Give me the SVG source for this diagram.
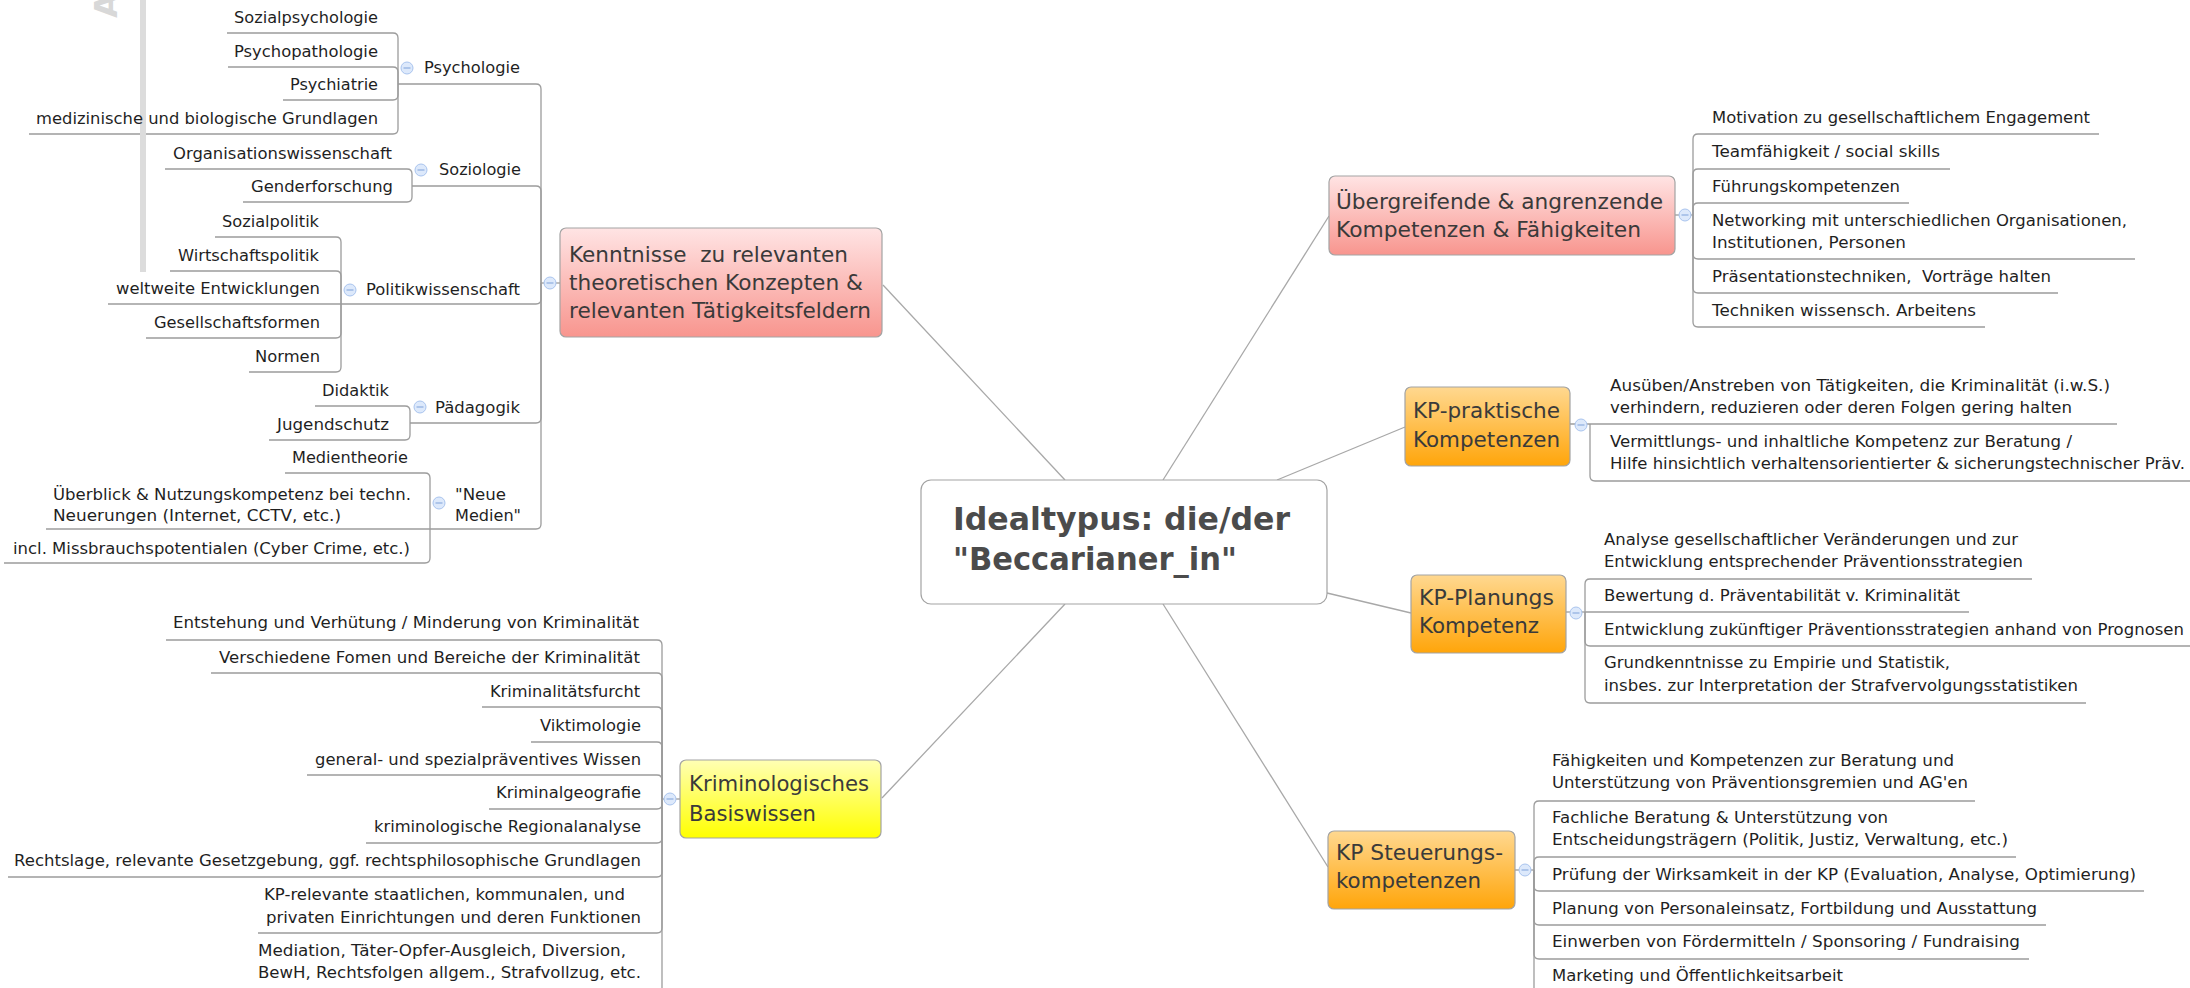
<svg xmlns="http://www.w3.org/2000/svg" width="2190" height="988" viewBox="0 0 2190 988">
<defs>
<linearGradient id="gRed" x1="0" y1="0" x2="0" y2="1"><stop offset="0" stop-color="#ffe4e4"/><stop offset="1" stop-color="#f8958e"/></linearGradient>
<linearGradient id="gOrange" x1="0" y1="0" x2="0" y2="1"><stop offset="0" stop-color="#ffd890"/><stop offset="1" stop-color="#ffa50a"/></linearGradient>
<linearGradient id="gYellow" x1="0" y1="0" x2="0" y2="1"><stop offset="0" stop-color="#ffffb4"/><stop offset="1" stop-color="#ffff00"/></linearGradient>
<style>
.conn path{fill:none;stroke:#9c9c9c;stroke-width:1.3}
.conn line{stroke:#a8a8a8;stroke-width:1.3}
.box{stroke:#a3a3a3;stroke-width:1.2}
.leaf{font-family:"DejaVu Sans","Liberation Sans",sans-serif;font-size:16px;fill:#1f1f1f}
.topic{font-family:"DejaVu Sans","Liberation Sans",sans-serif;font-size:22px;fill:#3a3a3a}
.center{font-family:"DejaVu Sans","Liberation Sans",sans-serif;font-size:32px;font-weight:bold;fill:#4b4b4b}
.tg circle{fill:#dde9fb;stroke:#a9c4ee;stroke-width:1}
.tg path{stroke:#8eaee0;stroke-width:1.2;fill:none}
</style>
</defs>
<rect width="2190" height="988" fill="#ffffff"/>

<g id="connectors" class="conn">
<line x1="1065" y1="480" x2="883" y2="285"/>
<line x1="1065" y1="604" x2="882" y2="798"/>
<line x1="1163" y1="480" x2="1329" y2="216"/>
<line x1="1277" y1="480" x2="1405" y2="427"/>
<line x1="1327" y1="593" x2="1411" y2="613"/>
<line x1="1163" y1="604" x2="1328" y2="867"/>
<!-- Kenntnisse -->
<path d="M541,283 H560"/>
<path d="M541,283 V89 Q541,84 536,84 H398"/>
<path d="M541,283 V191 Q541,186 536,186 H412"/>
<path d="M541,283 V299 Q541,304 536,304 H341"/>
<path d="M541,283 V418 Q541,423 536,423 H410"/>
<path d="M541,283 V524 Q541,529 536,529 H430"/>
<path d="M398,84 V38 Q398,33 393,33 H227"/>
<path d="M398,84 V72 Q398,67 393,67 H228"/>
<path d="M398,84 V95 Q398,100 393,100 H283"/>
<path d="M398,84 V129 Q398,134 393,134 H29"/>
<path d="M412,186 V174 Q412,169 407,169 H165"/>
<path d="M412,186 V197 Q412,202 407,202 H243"/>
<path d="M341,304 V242 Q341,237 336,237 H215"/>
<path d="M341,304 V276 Q341,271 336,271 H170"/>
<path d="M341,304 H108"/>
<path d="M341,304 V333 Q341,338 336,338 H146"/>
<path d="M341,304 V367 Q341,372 336,372 H249"/>
<path d="M410,423 V411 Q410,406 405,406 H315"/>
<path d="M410,423 V435 Q410,440 405,440 H269"/>
<path d="M430,529 V478 Q430,473 425,473 H285"/>
<path d="M430,529 H46"/>
<path d="M430,529 V558 Q430,563 425,563 H4"/>
<!-- Krim -->
<path d="M662,799 H680"/>
<path d="M662,799 V645 Q662,640 657,640 H166"/>
<path d="M662,799 V678 Q662,673 657,673 H211"/>
<path d="M662,799 V712 Q662,707 657,707 H482"/>
<path d="M662,799 V747 Q662,742 657,742 H531"/>
<path d="M662,799 V780 Q662,775 657,775 H307"/>
<path d="M662,799 V804 Q662,809 657,809 H489"/>
<path d="M662,799 V838 Q662,843 657,843 H366"/>
<path d="M662,799 V872 Q662,877 657,877 H8"/>
<path d="M662,799 V928 Q662,933 657,933 H258"/>
<path d="M662,799 V988"/>
<!-- Uebergreifende -->
<path d="M1675,215 H1693"/>
<path d="M1693,215 V139 Q1693,134 1698,134 H2099"/>
<path d="M1693,215 V174 Q1693,169 1698,169 H1950"/>
<path d="M1693,215 V208 Q1693,203 1698,203 H1909"/>
<path d="M1693,215 V254 Q1693,259 1698,259 H2135"/>
<path d="M1693,215 V288 Q1693,293 1698,293 H2058"/>
<path d="M1693,215 V322 Q1693,327 1698,327 H1985"/>
<!-- KP-praktische -->
<path d="M1570,424 H2117"/>
<path d="M1590,424 V476 Q1590,481 1595,481 H2190"/>
<!-- KP-Planungs -->
<path d="M1566,612 H1585"/>
<path d="M1585,612 V584 Q1585,579 1590,579 H2032"/>
<path d="M1585,612 H1969"/>
<path d="M1585,612 V641 Q1585,646 1590,646 H2190"/>
<path d="M1585,612 V698 Q1585,703 1590,703 H2086"/>
<!-- Steuerung -->
<path d="M1515,870 H1534"/>
<path d="M1534,870 V806 Q1534,801 1539,801 H1975"/>
<path d="M1534,870 V862 Q1534,857 1539,857 H2016"/>
<path d="M1534,870 V886 Q1534,891 1539,891 H2144"/>
<path d="M1534,870 V920 Q1534,925 1539,925 H2046"/>
<path d="M1534,870 V954 Q1534,959 1539,959 H2029"/>
<path d="M1534,870 V988"/>
</g>

<g id="watermark">
<rect x="140" y="0" width="6" height="272" fill="#dcdcdc"/>
<text transform="translate(117,18) rotate(-90)" font-family="DejaVu Sans, sans-serif" font-size="32" font-weight="bold" fill="#d8d8d8">A</text>
</g>

<g id="toggles" class="tg">
<circle cx="550" cy="283" r="6"/><path d="M546.5,283 H553.5"/>
<circle cx="407" cy="68" r="6"/><path d="M403.5,68 H410.5"/>
<circle cx="421" cy="170" r="6"/><path d="M417.5,170 H424.5"/>
<circle cx="350" cy="290" r="6"/><path d="M346.5,290 H353.5"/>
<circle cx="420" cy="407" r="6"/><path d="M416.5,407 H423.5"/>
<circle cx="439" cy="503" r="6"/><path d="M435.5,503 H442.5"/>
<circle cx="670" cy="799" r="6"/><path d="M666.5,799 H673.5"/>
<circle cx="1685" cy="215" r="6"/><path d="M1681.5,215 H1688.5"/>
<circle cx="1581" cy="425" r="6"/><path d="M1577.5,425 H1584.5"/>
<circle cx="1576" cy="613" r="6"/><path d="M1572.5,613 H1579.5"/>
<circle cx="1525" cy="870" r="6"/><path d="M1521.5,870 H1528.5"/>
</g>

<g id="center">
<rect class="box" x="921" y="480" width="406" height="124" rx="10" fill="#ffffff"/>
<text class="center" x="953" y="530" textLength="337" lengthAdjust="spacingAndGlyphs">Idealtypus: die/der</text>
<text class="center" x="953" y="570" textLength="284" lengthAdjust="spacingAndGlyphs">"Beccarianer_in"</text>
</g>

<g id="kenntnisse">
<rect class="box" x="560" y="228" width="322" height="109" rx="6" fill="url(#gRed)"/>
<text class="topic" xml:space="preserve" x="569" y="262" textLength="279" lengthAdjust="spacingAndGlyphs">Kenntnisse  zu relevanten</text>
<text class="topic" x="569" y="290" textLength="294" lengthAdjust="spacingAndGlyphs">theoretischen Konzepten &amp;</text>
<text class="topic" x="569" y="318" textLength="302" lengthAdjust="spacingAndGlyphs">relevanten Tätigkeitsfeldern</text>
</g>

<g id="uebergreifende">
<rect class="box" x="1329" y="176" width="346" height="79" rx="6" fill="url(#gRed)"/>
<text class="topic" x="1336" y="209" textLength="327" lengthAdjust="spacingAndGlyphs">Übergreifende &amp; angrenzende</text>
<text class="topic" x="1336" y="237" textLength="305" lengthAdjust="spacingAndGlyphs">Kompetenzen &amp; Fähigkeiten</text>
</g>

<g id="kp-praktisch">
<rect class="box" x="1405" y="387" width="165" height="79" rx="6" fill="url(#gOrange)"/>
<text class="topic" x="1413" y="418" textLength="147" lengthAdjust="spacingAndGlyphs">KP-praktische</text>
<text class="topic" x="1413" y="447" textLength="147" lengthAdjust="spacingAndGlyphs">Kompetenzen</text>
</g>

<g id="kp-planung">
<rect class="box" x="1411" y="575" width="155" height="78" rx="6" fill="url(#gOrange)"/>
<text class="topic" x="1419" y="605" textLength="135" lengthAdjust="spacingAndGlyphs">KP-Planungs</text>
<text class="topic" x="1419" y="633" textLength="120" lengthAdjust="spacingAndGlyphs">Kompetenz</text>
</g>

<g id="kp-steuerung">
<rect class="box" x="1328" y="831" width="187" height="78" rx="6" fill="url(#gOrange)"/>
<text class="topic" x="1336" y="860" textLength="167" lengthAdjust="spacingAndGlyphs">KP Steuerungs-</text>
<text class="topic" x="1336" y="888" textLength="145" lengthAdjust="spacingAndGlyphs">kompetenzen</text>
</g>

<g id="krim">
<rect class="box" x="680" y="760" width="201" height="78" rx="6" fill="url(#gYellow)"/>
<text class="topic" x="689" y="791" textLength="180" lengthAdjust="spacingAndGlyphs">Kriminologisches</text>
<text class="topic" x="689" y="821" textLength="127" lengthAdjust="spacingAndGlyphs">Basiswissen</text>
</g>

<g id="psychologie"><text class="leaf" x="424" y="73" textLength="96" lengthAdjust="spacingAndGlyphs">Psychologie</text></g>
<g id="soziologie"><text class="leaf" x="439" y="175" textLength="82" lengthAdjust="spacingAndGlyphs">Soziologie</text></g>
<g id="politik"><text class="leaf" x="366" y="295" textLength="154" lengthAdjust="spacingAndGlyphs">Politikwissenschaft</text></g>
<g id="paedagogik"><text class="leaf" x="435" y="413" textLength="85" lengthAdjust="spacingAndGlyphs">Pädagogik</text></g>
<g id="neue-medien"><text class="leaf" x="455" y="500" textLength="51" lengthAdjust="spacingAndGlyphs">"Neue</text><text class="leaf" x="455" y="521" textLength="66" lengthAdjust="spacingAndGlyphs">Medien"</text></g>

<g id="k-leaves">
<g id="l1"><text class="leaf" x="234" y="23" textLength="144" lengthAdjust="spacingAndGlyphs">Sozialpsychologie</text></g>
<g id="l2"><text class="leaf" x="234" y="57" textLength="144" lengthAdjust="spacingAndGlyphs">Psychopathologie</text></g>
<g id="l3"><text class="leaf" x="290" y="90" textLength="88" lengthAdjust="spacingAndGlyphs">Psychiatrie</text></g>
<g id="l4"><text class="leaf" x="36" y="124" textLength="342" lengthAdjust="spacingAndGlyphs">medizinische und biologische Grundlagen</text></g>
<g id="l5"><text class="leaf" x="173" y="159" textLength="219" lengthAdjust="spacingAndGlyphs">Organisationswissenschaft</text></g>
<g id="l6"><text class="leaf" x="251" y="192" textLength="142" lengthAdjust="spacingAndGlyphs">Genderforschung</text></g>
<g id="l7"><text class="leaf" x="222" y="227" textLength="97" lengthAdjust="spacingAndGlyphs">Sozialpolitik</text></g>
<g id="l8"><text class="leaf" x="178" y="261" textLength="141" lengthAdjust="spacingAndGlyphs">Wirtschaftspolitik</text></g>
<g id="l9"><text class="leaf" x="116" y="294" textLength="204" lengthAdjust="spacingAndGlyphs">weltweite Entwicklungen</text></g>
<g id="l10"><text class="leaf" x="154" y="328" textLength="166" lengthAdjust="spacingAndGlyphs">Gesellschaftsformen</text></g>
<g id="l11"><text class="leaf" x="255" y="362" textLength="65" lengthAdjust="spacingAndGlyphs">Normen</text></g>
<g id="l12"><text class="leaf" x="322" y="396" textLength="67" lengthAdjust="spacingAndGlyphs">Didaktik</text></g>
<g id="l13"><text class="leaf" x="277" y="430" textLength="112" lengthAdjust="spacingAndGlyphs">Jugendschutz</text></g>
<g id="l14"><text class="leaf" x="292" y="463" textLength="116" lengthAdjust="spacingAndGlyphs">Medientheorie</text></g>
<g id="l15"><text class="leaf" x="53" y="500" textLength="358" lengthAdjust="spacingAndGlyphs">Überblick &amp; Nutzungskompetenz bei techn.</text><text class="leaf" x="53" y="521" textLength="288" lengthAdjust="spacingAndGlyphs">Neuerungen (Internet, CCTV, etc.)</text></g>
<g id="l16"><text class="leaf" x="13" y="554" textLength="397" lengthAdjust="spacingAndGlyphs">incl. Missbrauchspotentialen (Cyber Crime, etc.)</text></g>
</g>

<g id="krim-leaves">
<g id="b1"><text class="leaf" x="173" y="628" textLength="466" lengthAdjust="spacingAndGlyphs">Entstehung und Verhütung / Minderung von Kriminalität</text></g>
<g id="b2"><text class="leaf" x="219" y="663" textLength="421" lengthAdjust="spacingAndGlyphs">Verschiedene Fomen und Bereiche der Kriminalität</text></g>
<g id="b3"><text class="leaf" x="490" y="697" textLength="150" lengthAdjust="spacingAndGlyphs">Kriminalitätsfurcht</text></g>
<g id="b4"><text class="leaf" x="540" y="731" textLength="101" lengthAdjust="spacingAndGlyphs">Viktimologie</text></g>
<g id="b5"><text class="leaf" x="315" y="765" textLength="326" lengthAdjust="spacingAndGlyphs">general- und spezialpräventives Wissen</text></g>
<g id="b6"><text class="leaf" x="496" y="798" textLength="145" lengthAdjust="spacingAndGlyphs">Kriminalgeografie</text></g>
<g id="b7"><text class="leaf" x="374" y="832" textLength="267" lengthAdjust="spacingAndGlyphs">kriminologische Regionalanalyse</text></g>
<g id="b8"><text class="leaf" x="14" y="866" textLength="627" lengthAdjust="spacingAndGlyphs">Rechtslage, relevante Gesetzgebung, ggf. rechtsphilosophische Grundlagen</text></g>
<g id="b9"><text class="leaf" x="264" y="900" textLength="361" lengthAdjust="spacingAndGlyphs">KP-relevante staatlichen, kommunalen, und</text><text class="leaf" x="266" y="923" textLength="375" lengthAdjust="spacingAndGlyphs">privaten Einrichtungen und deren Funktionen</text></g>
<g id="b10"><text class="leaf" x="258" y="956" textLength="368" lengthAdjust="spacingAndGlyphs">Mediation, Täter-Opfer-Ausgleich, Diversion,</text><text class="leaf" x="258" y="978" textLength="383" lengthAdjust="spacingAndGlyphs">BewH, Rechtsfolgen allgem., Strafvollzug, etc.</text></g>
</g>

<g id="u-leaves">
<g id="u1"><text class="leaf" x="1712" y="123" textLength="378" lengthAdjust="spacingAndGlyphs">Motivation zu gesellschaftlichem Engagement</text></g>
<g id="u2"><text class="leaf" x="1712" y="157" textLength="228" lengthAdjust="spacingAndGlyphs">Teamfähigkeit / social skills</text></g>
<g id="u3"><text class="leaf" x="1712" y="192" textLength="188" lengthAdjust="spacingAndGlyphs">Führungskompetenzen</text></g>
<g id="u4"><text class="leaf" x="1712" y="226" textLength="415" lengthAdjust="spacingAndGlyphs">Networking mit unterschiedlichen Organisationen,</text><text class="leaf" x="1712" y="248" textLength="194" lengthAdjust="spacingAndGlyphs">Institutionen, Personen</text></g>
<g id="u5"><text class="leaf" xml:space="preserve" x="1712" y="282" textLength="339" lengthAdjust="spacingAndGlyphs">Präsentationstechniken,  Vorträge halten</text></g>
<g id="u6"><text class="leaf" x="1712" y="316" textLength="264" lengthAdjust="spacingAndGlyphs">Techniken wissensch. Arbeitens</text></g>
</g>

<g id="p-leaves">
<g id="p1"><text class="leaf" x="1610" y="391" textLength="500" lengthAdjust="spacingAndGlyphs">Ausüben/Anstreben von Tätigkeiten, die Kriminalität (i.w.S.)</text><text class="leaf" x="1610" y="413" textLength="462" lengthAdjust="spacingAndGlyphs">verhindern, reduzieren oder deren Folgen gering halten</text></g>
<g id="p2"><text class="leaf" x="1610" y="447" textLength="462" lengthAdjust="spacingAndGlyphs">Vermittlungs- und inhaltliche Kompetenz zur Beratung /</text><text class="leaf" x="1610" y="469" textLength="575" lengthAdjust="spacingAndGlyphs">Hilfe hinsichtlich verhaltensorientierter &amp; sicherungstechnischer Präv.</text></g>
</g>

<g id="pl-leaves">
<g id="q1"><text class="leaf" x="1604" y="545" textLength="414" lengthAdjust="spacingAndGlyphs">Analyse gesellschaftlicher Veränderungen und zur</text><text class="leaf" x="1604" y="567" textLength="419" lengthAdjust="spacingAndGlyphs">Entwicklung entsprechender Präventionsstrategien</text></g>
<g id="q2"><text class="leaf" x="1604" y="601" textLength="356" lengthAdjust="spacingAndGlyphs">Bewertung d. Präventabilität v. Kriminalität</text></g>
<g id="q3"><text class="leaf" x="1604" y="635" textLength="580" lengthAdjust="spacingAndGlyphs">Entwicklung zukünftiger Präventionsstrategien anhand von Prognosen</text></g>
<g id="q4"><text class="leaf" x="1604" y="668" textLength="346" lengthAdjust="spacingAndGlyphs">Grundkenntnisse zu Empirie und Statistik,</text><text class="leaf" x="1604" y="691" textLength="474" lengthAdjust="spacingAndGlyphs">insbes. zur Interpretation der Strafvervolgungsstatistiken</text></g>
</g>

<g id="s-leaves">
<g id="s1"><text class="leaf" x="1552" y="766" textLength="402" lengthAdjust="spacingAndGlyphs">Fähigkeiten und Kompetenzen zur Beratung und</text><text class="leaf" x="1552" y="788" textLength="416" lengthAdjust="spacingAndGlyphs">Unterstützung von Präventionsgremien und AG'en</text></g>
<g id="s2"><text class="leaf" x="1552" y="823" textLength="336" lengthAdjust="spacingAndGlyphs">Fachliche Beratung &amp; Unterstützung von</text><text class="leaf" x="1552" y="845" textLength="456" lengthAdjust="spacingAndGlyphs">Entscheidungsträgern (Politik, Justiz, Verwaltung, etc.)</text></g>
<g id="s3"><text class="leaf" x="1552" y="880" textLength="584" lengthAdjust="spacingAndGlyphs">Prüfung der Wirksamkeit in der KP (Evaluation, Analyse, Optimierung)</text></g>
<g id="s4"><text class="leaf" x="1552" y="914" textLength="485" lengthAdjust="spacingAndGlyphs">Planung von Personaleinsatz, Fortbildung und Ausstattung</text></g>
<g id="s5"><text class="leaf" x="1552" y="947" textLength="468" lengthAdjust="spacingAndGlyphs">Einwerben von Fördermitteln / Sponsoring / Fundraising</text></g>
<g id="s6"><text class="leaf" x="1552" y="981" textLength="291" lengthAdjust="spacingAndGlyphs">Marketing und Öffentlichkeitsarbeit</text></g>
</g>
</svg>
